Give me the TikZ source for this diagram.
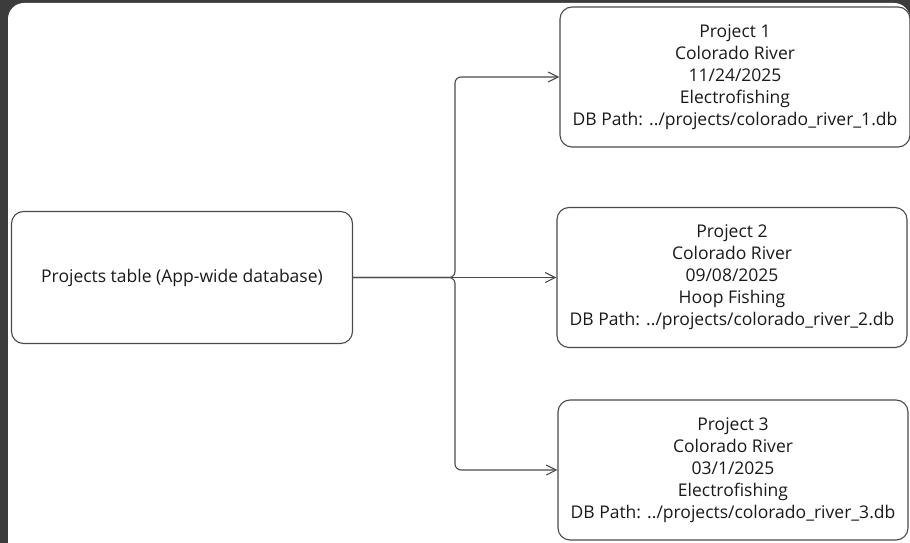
\documentclass[tikz,border=0pt]{standalone}
\usepackage{fontspec}
\setmainfont{Open Sans}
\usepackage{tikz}
\usetikzlibrary{arrows.meta}
\definecolor{panelgrey}{HTML}{3C3C3C}
\definecolor{edgegrey}{HTML}{4A4A4A}
\definecolor{inkgrey}{HTML}{1A1A1A}
\pgfdeclarelayer{panellayer}
\pgfdeclarelayer{edgelayer}
\pgfdeclarelayer{nodelayer}
\pgfsetlayers{panellayer,edgelayer,nodelayer,main}
\tikzstyle{none}=[inner sep=0pt]
\tikzstyle{table}=[rectangle,rounded corners=12pt,draw=edgegrey,fill=white,line width=1.1pt,minimum width=341pt,minimum height=132pt,align=center,text=inkgrey,font=\fontsize{17.5}{22}\selectfont]
\tikzstyle{project}=[style=table,minimum width=350pt,minimum height=140pt]
\tikzstyle{link}=[-{Straight Barb[length=10pt,width=10pt]},draw=edgegrey,line width=1.1pt,rounded corners=6pt]

\begin{document}
\begin{tikzpicture}[x=1pt,y=-1pt]
	\useasboundingbox (0,0) rectangle (910,543);
	\begin{pgfonlayer}{panellayer}
		\fill [panelgrey] (0,0) rectangle (910,543);
		\fill [white,rounded corners=16pt] (8,543) -- (8,3) -- (910,3) [sharp corners] -- (910,543) -- cycle;
	\end{pgfonlayer}
	\begin{pgfonlayer}{nodelayer}
		\node [style=table] (tbl) at (182, 277.5) {Projects table (App-wide database)};
		\node [style=none] (split) at (455, 277.5) {};
		
		\node [style=project] (p1) at (735, 77) {Project 1\\Colorado River\\11/24/2025\\Electrofishing\\DB Path: ../projects/colorado\_river\_1.db};
		\node [style=project] (p2) at (732, 277.5) {Project 2\\Colorado River\\09/08/2025\\Hoop Fishing\\DB Path: ../projects/colorado\_river\_2.db};
		\node [style=project] (p3) at (733, 470) {Project 3\\Colorado River\\03/1/2025\\Electrofishing\\DB Path: ../projects/colorado\_river\_3.db};
	\end{pgfonlayer}
	\begin{pgfonlayer}{edgelayer}
		\draw [style=link] (tbl.east) -- (split.center) |- (p1.west);
		\draw [style=link] (tbl.east) -- (split.center) -- (p2.west);
		\draw [style=link] (tbl.east) -- (split.center) |- (p3.west);
	\end{pgfonlayer}
\end{tikzpicture}
\end{document}
